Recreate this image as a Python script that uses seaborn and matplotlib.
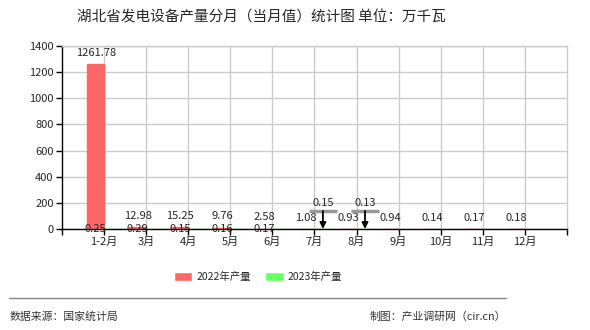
import matplotlib
matplotlib.use("Agg")
import matplotlib.pyplot as plt
import seaborn as sns
import pandas as pd
import numpy as np
from matplotlib.lines import Line2D

months = ["1-2月", "3月", "4月", "5月", "6月", "7月", "8月", "9月", "10月", "11月", "12月"]
vals_2022 = [1261.78, 12.98, 15.25, 9.76, 2.58, 1.08, 0.93, 0.94, 0.14, 0.17, 0.18]
vals_2023 = [0.25, 0.29, 0.15, 0.16, 0.17, 0.15, 0.13, np.nan, np.nan, np.nan, np.nan]
series = ["2022年产量", "2023年产量"]
colors = ["#ff6666", "#66ff66"]
yticks = [0, 200, 400, 600, 800, 1000, 1200, 1400]

sns.set_style("white")
plt.rcParams["font.family"] = ["Noto Sans CJK SC", "DejaVu Sans"]

df = pd.DataFrame({
    "month": months * 2,
    "series": [series[0]] * len(months) + [series[1]] * len(months),
    "value": vals_2022 + vals_2023,
})

fig = plt.figure(figsize=(5.9, 3.3), dpi=100)
ax = fig.add_axes([62 / 590, 1 - 229 / 330, (567 - 62) / 590, (229 - 46) / 330])

sns.barplot(data=df, x="month", y="value", hue="series", order=months,
            hue_order=series, palette=colors, ax=ax, width=0.8,
            saturation=1, errorbar=None, linewidth=1.0)
for cont, c in zip(ax.containers, colors):
    for p in cont:
        p.set_edgecolor(c)

handles, labels = ax.get_legend_handles_labels()
if ax.legend_ is not None:
    ax.legend_.remove()

ax.set_xlim(-1, 11)
ax.set_ylim(0, 1400)
ax.set_yticks(yticks)
ax.set_yticklabels([str(v) for v in yticks])
ax.set_xticks(range(len(months)))
ax.set_xticklabels(months)
ax.set_xticks([-1, 11], minor=True)
ax.set_xlabel("")
ax.set_ylabel("")

ax.set_axisbelow(True)
ax.grid(True, axis="both", color="#cccccc", lw=1)
for s in ["top", "right"]:
    ax.spines[s].set_color("#cccccc")
    ax.spines[s].set_linewidth(1)
for s in ["left", "bottom"]:
    ax.spines[s].set_color("black")
    ax.spines[s].set_linewidth(1)
ax.tick_params(axis="both", which="both", length=4, width=1, color="black",
               labelsize=8, pad=2, direction="out")
ax.tick_params(axis="x", which="both", bottom=True)
ax.tick_params(axis="y", left=True)

# value labels
red_bars = ax.containers[0]
green_bars = ax.containers[1]
for p, v in zip(red_bars, vals_2022):
    xc = p.get_x() + p.get_width() / 2
    ax.annotate(f"{v:.2f}", (xc, p.get_height()), xytext=(0, 4.5),
                textcoords="offset points", ha="center", va="bottom", fontsize=8)

for i, (pr, pg, v) in enumerate(zip(red_bars, green_bars, vals_2023)):
    if np.isnan(v):
        continue
    if i < 5:
        xc = pr.get_x() + pr.get_width() / 2
        ax.text(xc, 0, f"{v:.2f}", ha="center", va="center", fontsize=8)
    else:
        xc = pg.get_x() + pg.get_width() / 2
        ax.plot([xc - 0.33, xc + 0.33], [138, 138], color="#999999", lw=2.5,
                solid_capstyle="butt", zorder=4)
        ax.annotate("", xy=(xc, pg.get_height()), xytext=(xc, 138),
                    arrowprops=dict(arrowstyle="-|>", color="black", lw=1.3,
                                    mutation_scale=9, shrinkA=0, shrinkB=0),
                    zorder=5)
        ax.text(xc, 199, f"{v:.2f}", ha="center", va="center", fontsize=8)

# title
fig.text(261 / 590, 1 - 17 / 330, "湖北省发电设备产量分月（当月值）统计图 单位：万千瓦",
         ha="center", va="center", fontsize=10.5)

# legend
fig.legend(handles, labels, loc="center", bbox_to_anchor=(258 / 590, 1 - 277 / 330),
           ncol=2, frameon=False, fontsize=7.5, handlelength=1.8, handleheight=0.85,
           handletextpad=0.4, columnspacing=1.35, borderpad=0)

# footer line and texts
fig.add_artist(Line2D([9 / 590, 506 / 590], [1 - 298 / 330, 1 - 298 / 330],
                      color="#888888", lw=1, transform=fig.transFigure))
fig.text(10 / 590, 1 - 317 / 330, "数据来源：国家统计局", ha="left", va="center",
         fontsize=7.8, color="#333333")
fig.text(506 / 590, 1 - 317 / 330, "制图：产业调研网（cir.cn）", ha="right", va="center",
         fontsize=7.8, color="#333333")

fig.savefig("out.png", dpi=100)
